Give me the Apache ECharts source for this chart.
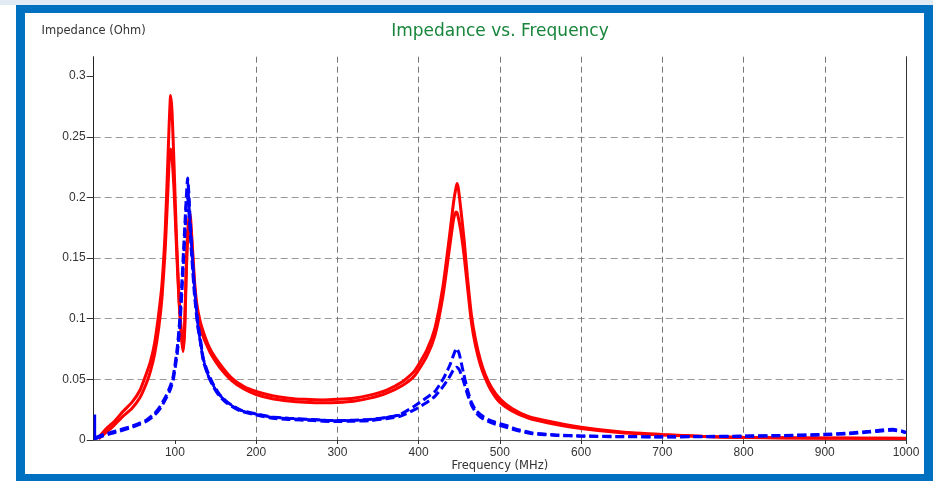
<!DOCTYPE html>
<html>
<head>
<meta charset="utf-8">
<script src="https://cdn.jsdelivr.net/npm/echarts@6/dist/echarts.min.js"></script>
<style>
  html, body { margin: 0; padding: 0; width: 933px; height: 481px; overflow: hidden; background: #ffffff; }
  #topstrip { position: absolute; left: 0; top: 0; width: 933px; height: 5px; background: #e2eaf3; }
  #frame { position: absolute; left: 16px; top: 5px; width: 917px; height: 476px; background: #0070c0; }
  #chart { position: absolute; left: 25px; top: 13px; width: 899px; height: 461px; background: #ffffff; }
</style>
</head>
<body>
<div id="topstrip"></div>
<div id="frame"></div>
<div id="chart"></div>
<script>
// Frequency sweep (MHz) and impedance magnitude (Ohm) for each trace
const redFreq = [6, 15, 25, 36, 47, 57, 65, 70, 75, 80, 84, 88, 91, 93, 94.7, 96.5, 99, 102, 105, 108, 110, 112, 114, 116, 118.5, 121, 124, 127, 131, 135, 140, 145, 155, 170, 185, 200, 220, 240, 260, 282, 300, 320, 340, 360, 380, 395, 410, 420, 430, 438, 443, 446, 447.5, 449, 452, 456, 460, 465, 470, 476, 482, 490, 500, 515, 535, 560, 600, 650, 700, 750, 800, 850, 900, 950, 1000];
const redOuter = [0.002, 0.009, 0.015, 0.0235, 0.031, 0.041, 0.055, 0.065, 0.08, 0.104, 0.128, 0.172, 0.225, 0.262, 0.284, 0.27, 0.225, 0.165, 0.118, 0.088, 0.075, 0.095, 0.145, 0.175, 0.187, 0.165, 0.132, 0.112, 0.098, 0.089, 0.08, 0.073, 0.063, 0.051, 0.044, 0.04, 0.0365, 0.0345, 0.0335, 0.033, 0.0335, 0.0345, 0.037, 0.041, 0.048, 0.057, 0.074, 0.092, 0.127, 0.168, 0.196, 0.208, 0.2115, 0.207, 0.19, 0.165, 0.135, 0.103, 0.083, 0.066, 0.054, 0.043, 0.034, 0.026, 0.0195, 0.0155, 0.0105, 0.0065, 0.0045, 0.003, 0.0022, 0.0018, 0.0016, 0.0015, 0.0014];
const redInner = [0.001, 0.006, 0.012, 0.0195, 0.026, 0.035, 0.047, 0.057, 0.071, 0.092, 0.117, 0.157, 0.2, 0.232, 0.24, 0.232, 0.205, 0.158, 0.115, 0.085, 0.073, 0.09, 0.138, 0.17, 0.18, 0.16, 0.128, 0.108, 0.094, 0.085, 0.077, 0.07, 0.06, 0.049, 0.042, 0.0375, 0.034, 0.0322, 0.0312, 0.0307, 0.031, 0.032, 0.0345, 0.0385, 0.045, 0.053, 0.069, 0.086, 0.119, 0.158, 0.182, 0.188, 0.187, 0.183, 0.172, 0.152, 0.127, 0.097, 0.078, 0.062, 0.051, 0.04, 0.031, 0.024, 0.018, 0.014, 0.0095, 0.006, 0.0042, 0.0028, 0.002, 0.0017, 0.0015, 0.0014, 0.0013];

const blueFreq = [2, 10, 20, 30, 45, 55, 65, 75, 82, 88, 94, 98, 103, 106, 108.5, 110.5, 112.5, 114, 115.6, 117, 119, 121, 124, 128, 131, 135, 141, 148, 155, 165, 180, 200, 220, 240, 270, 295, 320, 340, 360, 377, 395, 410, 420, 430, 438, 443, 446.7, 450, 455, 460, 465, 470, 476, 485, 495, 508, 520, 540, 570, 600, 650, 700, 750, 800, 850, 900, 930, 955, 970, 984, 995, 1000];
const blueDashOuter = [0.002, 0.004, 0.006, 0.008, 0.011, 0.0135, 0.0165, 0.022, 0.028, 0.035, 0.044, 0.053, 0.077, 0.1, 0.129, 0.155, 0.181, 0.2, 0.216, 0.205, 0.178, 0.155, 0.126, 0.098, 0.085, 0.067, 0.055, 0.045, 0.0375, 0.031, 0.025, 0.0215, 0.019, 0.018, 0.0168, 0.016, 0.0163, 0.017, 0.0185, 0.021, 0.028, 0.035, 0.04, 0.05, 0.061, 0.07, 0.0756, 0.071, 0.056, 0.042, 0.031, 0.025, 0.021, 0.017, 0.0145, 0.012, 0.009, 0.0058, 0.0042, 0.0034, 0.0029, 0.0027, 0.0029, 0.0033, 0.0038, 0.0047, 0.0058, 0.0072, 0.0082, 0.0088, 0.0075, 0.0062];
const blueDashInner = [0.001, 0.003, 0.005, 0.007, 0.01, 0.0125, 0.0155, 0.0205, 0.026, 0.033, 0.041, 0.05, 0.072, 0.094, 0.121, 0.147, 0.172, 0.193, 0.2, 0.19, 0.168, 0.148, 0.12, 0.094, 0.082, 0.065, 0.053, 0.043, 0.036, 0.0298, 0.024, 0.0205, 0.018, 0.017, 0.016, 0.0152, 0.0155, 0.016, 0.0175, 0.0195, 0.025, 0.031, 0.036, 0.044, 0.052, 0.058, 0.06, 0.058, 0.049, 0.038, 0.029, 0.023, 0.019, 0.0155, 0.013, 0.0105, 0.008, 0.0052, 0.0038, 0.0031, 0.0027, 0.0025, 0.0027, 0.003, 0.0035, 0.0043, 0.0052, 0.0065, 0.0075, 0.008, 0.007, 0.0058];

const blueSolidFreq = [1.5, 1.5, 3, 115.6, 117, 119, 121, 124, 128, 131, 135, 141, 148, 155, 165, 172, 180, 200, 220, 240, 270, 295, 320, 340, 360, 377];
const blueSolid = [0.021, 0, null, 0.216, 0.2, 0.175, 0.155, 0.126, 0.096, 0.082, 0.067, 0.053, 0.044, 0.037, 0.031, 0.0275, 0.0245, 0.0212, 0.0188, 0.0178, 0.0167, 0.016, 0.0163, 0.017, 0.0186, 0.0206];

// Axis ticks
const xTicks = [100, 200, 300, 400, 500, 600, 700, 800, 900, 1000];
const yTicks = [0, 0.05, 0.1, 0.15, 0.2, 0.25, 0.3];

const pairs = (xs, ys) => xs.map((x, i) => [x, ys[i]]);

const chart = echarts.init(document.getElementById('chart'), null, { renderer: 'canvas' });

const tickFont = { fontFamily: 'Liberation Sans, Arial, sans-serif', fontSize: 12, color: '#333333' };
const nameFont = { fontFamily: 'DejaVu Sans, Verdana, sans-serif', fontSize: 11.5, color: '#333333' };

const redLine = { color: '#ff0000', width: 3 };
const blueDash = { color: '#0000ff', width: 3, type: [9, 4] };

chart.setOption({
  animation: false,
  backgroundColor: '#ffffff',
  title: {
    text: 'Impedance vs. Frequency',
    left: 475,
    top: 10,
    padding: 0,
    textAlign: 'center',
    textStyle: { fontFamily: 'DejaVu Sans, Verdana, sans-serif', fontSize: 17, fontWeight: 'normal', color: '#17853b' }
  },
  grid: { left: 68.7, right: 18, top: 43.7, bottom: 34, containLabel: false, outerBoundsMode: 'none' },
  xAxis: {
    type: 'value',
    min: 0,
    max: 1000,
    interval: 100,
    name: 'Frequency (MHz)',
    nameLocation: 'middle',
    nameGap: 20,
    nameMoveOverlap: false,
    nameTextStyle: nameFont,
    axisLine: { show: true, lineStyle: { color: '#555555', width: 1 } },
    axisTick: { show: true, length: 4, customValues: xTicks, lineStyle: { color: '#333333' } },
    axisLabel: { margin: 7, customValues: xTicks, formatter: (v) => String(v), ...tickFont },
    splitLine: { show: true, showMinLine: false, showMaxLine: false, lineStyle: { color: '#777777', type: [6, 4], width: 1 } }
  },
  yAxis: [{
    type: 'value',
    min: 0,
    max: 0.316,
    interval: 0.05,
    name: 'Impedance (Ohm)',
    nameLocation: 'end',
    nameGap: 26,
    nameTextStyle: Object.assign({ align: 'center', verticalAlign: 'middle' }, nameFont),
    axisLine: { show: true, lineStyle: { color: '#222222', width: 1 } },
    axisTick: { show: true, length: 7, customValues: yTicks, lineStyle: { color: '#333333' } },
    axisLabel: { margin: 8, customValues: yTicks, formatter: (v) => String(v), ...tickFont },
    splitLine: { show: true, showMinLine: false, showMaxLine: false, lineStyle: { color: '#999999', type: [7, 4], width: 1 } }
  }, {
    type: 'value',
    position: 'right',
    min: 0,
    max: 0.316,
    axisLine: { show: true, onZero: false, lineStyle: { color: '#333333', width: 1 } },
    axisTick: { show: false },
    axisLabel: { show: false },
    splitLine: { show: false }
  }],
  series: [
    { name: 'Z red 1', type: 'line', data: pairs(redFreq, redOuter), showSymbol: false, smooth: 0.2, lineStyle: redLine, z: 2 },
    { name: 'Z red 2', type: 'line', data: pairs(redFreq, redInner), showSymbol: false, smooth: 0.2, lineStyle: redLine, z: 2 },
    { name: 'Z blue 1', type: 'line', data: pairs(blueFreq, blueDashOuter), showSymbol: false, smooth: 0.2, lineStyle: blueDash, z: 3 },
    { name: 'Z blue 2', type: 'line', data: pairs(blueFreq, blueDashInner), showSymbol: false, smooth: 0.2, lineStyle: blueDash, z: 3 },
    { name: 'Z blue 3', type: 'line', data: pairs(blueSolidFreq, blueSolid), showSymbol: false, smooth: 0.2, connectNulls: false, lineStyle: { color: '#0000ff', width: 2.5 }, z: 4 }
  ]
});
</script>
</body>
</html>
